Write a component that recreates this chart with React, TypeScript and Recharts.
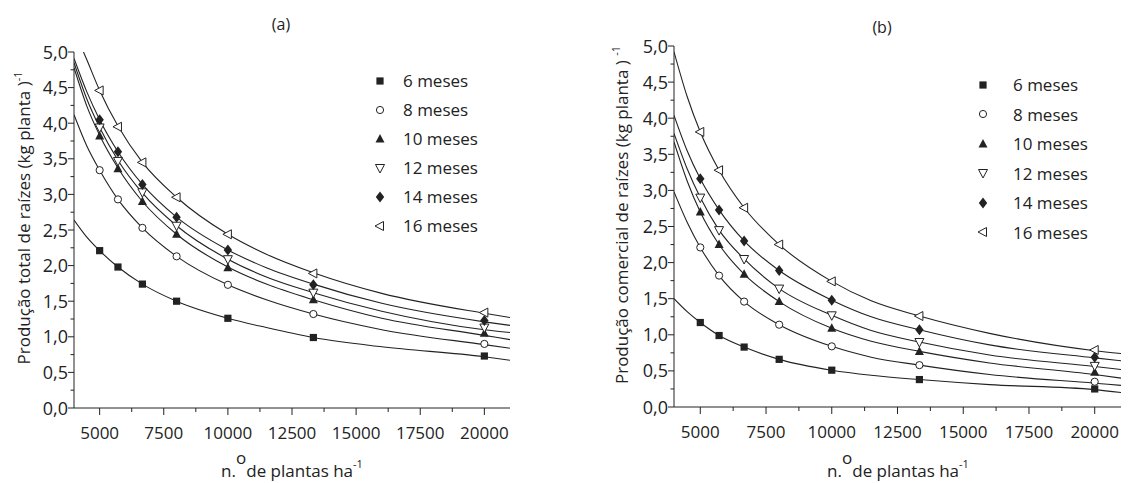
import React from "react";
import { ComposedChart, Line, Scatter, XAxis, YAxis, Legend } from "recharts";

// nº de plantas por hectare (valores observados)
const plantDensity = [5000, 5714, 6667, 8000, 10000, 13333, 20000];
const seriesNames = ["6 meses", "8 meses", "10 meses", "12 meses", "14 meses", "16 meses"];
const markerKinds = ["square", "circle", "triUp", "triDown", "diamond", "triLeft"];

// (a) produção total de raízes - pontos observados
const totalObs6 = [2.21, 1.98, 1.74, 1.5, 1.26, 0.99, 0.73];
const totalObs8 = [3.34, 2.93, 2.53, 2.13, 1.73, 1.32, 0.9];
const totalObs10 = [3.82, 3.36, 2.9, 2.44, 1.97, 1.52, 1.05];
const totalObs12 = [3.94, 3.47, 3.03, 2.56, 2.09, 1.62, 1.13];
const totalObs14 = [4.05, 3.6, 3.14, 2.68, 2.22, 1.73, 1.23];
const totalObs16 = [4.46, 3.95, 3.45, 2.96, 2.44, 1.89, 1.34];

// (b) produção comercial de raízes - pontos observados
const comObs6 = [1.17, 0.99, 0.83, 0.66, 0.51, 0.38, 0.25];
const comObs8 = [2.21, 1.82, 1.46, 1.14, 0.84, 0.58, 0.35];
const comObs10 = [2.7, 2.25, 1.84, 1.46, 1.09, 0.77, 0.48];
const comObs12 = [2.9, 2.45, 2.05, 1.64, 1.27, 0.9, 0.57];
const comObs14 = [3.16, 2.73, 2.3, 1.89, 1.48, 1.07, 0.69];
const comObs16 = [3.81, 3.28, 2.76, 2.25, 1.74, 1.26, 0.79];

// curvas ajustadas
const curveX = [4000, 4500, 5000, 5714, 6667, 8000, 10000, 11500, 13333, 16000, 20000, 21000];
const curveX16a = [4370, 4500, 5000, 5714, 6667, 8000, 10000, 11500, 13333, 16000, 20000, 21000];

const totalFit6 = [2.64, 2.4, 2.21, 1.98, 1.74, 1.5, 1.26, 1.13, 0.99, 0.86, 0.72, 0.67];
const totalFit8 = [4.12, 3.68, 3.34, 2.93, 2.53, 2.13, 1.73, 1.52, 1.32, 1.1, 0.89, 0.84];
const totalFit10 = [4.78, 4.24, 3.83, 3.37, 2.9, 2.44, 1.98, 1.74, 1.52, 1.26, 1.02, 0.96];
const totalFit12 = [4.85, 4.34, 3.94, 3.48, 3.02, 2.56, 2.09, 1.84, 1.62, 1.36, 1.1, 1.06];
const totalFit14 = [4.91, 4.44, 4.05, 3.6, 3.14, 2.68, 2.22, 1.97, 1.74, 1.47, 1.21, 1.16];
const totalFit16 = [5.0, 4.89, 4.46, 3.96, 3.45, 2.96, 2.44, 2.16, 1.9, 1.61, 1.33, 1.27];

const comFit6 = [1.5, 1.32, 1.17, 0.99, 0.83, 0.66, 0.51, 0.44, 0.38, 0.31, 0.24, 0.2];
const comFit8 = [2.98, 2.56, 2.21, 1.82, 1.46, 1.14, 0.84, 0.69, 0.58, 0.45, 0.33, 0.3];
const comFit10 = [3.67, 3.13, 2.7, 2.25, 1.84, 1.46, 1.09, 0.91, 0.77, 0.61, 0.45, 0.4];
const comFit12 = [3.79, 3.3, 2.9, 2.45, 2.05, 1.64, 1.27, 1.06, 0.9, 0.72, 0.56, 0.52];
const comFit14 = [4.04, 3.55, 3.16, 2.73, 2.3, 1.89, 1.48, 1.25, 1.07, 0.86, 0.68, 0.64];
const comFit16 = [4.92, 4.3, 3.81, 3.28, 2.76, 2.25, 1.74, 1.47, 1.26, 1.02, 0.78, 0.74];

const xTicks = [5000, 6250, 7500, 8750, 10000, 11250, 12500, 13750, 15000, 16250, 17500, 18750, 20000];
const yTicks = [0, 0.25, 0.5, 0.75, 1, 1.25, 1.5, 1.75, 2, 2.25, 2.5, 2.75, 3, 3.25, 3.5, 3.75, 4, 4.25, 4.5, 4.75, 5];

const INK = "#222";
const FONT = "'Open Sans', sans-serif";

const toPts = (xs: number[], ys: number[]) => xs.map((x, i) => ({ x, y: ys[i] }));

const Marker = ({ kind, cx, cy }: { kind: string; cx: number; cy: number }) => {
  switch (kind) {
    case "square":
      return <rect x={cx - 3.6} y={cy - 3.6} width={7.2} height={7.2} fill={INK} />;
    case "circle":
      return <circle cx={cx} cy={cy} r={3.6} fill="#fff" stroke={INK} strokeWidth={1} />;
    case "triUp":
      return <path d={`M${cx},${cy - 5}L${cx + 4.5},${cy + 3.5}L${cx - 4.5},${cy + 3.5}Z`} fill={INK} />;
    case "triDown":
      return <path d={`M${cx - 4.5},${cy - 3.5}L${cx + 4.5},${cy - 3.5}L${cx},${cy + 5}Z`} fill="#fff" stroke={INK} strokeWidth={1} />;
    case "diamond":
      return <path d={`M${cx},${cy - 5.5}L${cx + 4.2},${cy}L${cx},${cy + 5.5}L${cx - 4.2},${cy}Z`} fill={INK} />;
    default:
      return <path d={`M${cx - 5},${cy}L${cx + 3.5},${cy - 4.5}L${cx + 3.5},${cy + 4.5}Z`} fill="#fff" stroke={INK} strokeWidth={1} />;
  }
};

const XTick = (props: any) => {
  const { x, y, payload } = props;
  const major = payload.value % 2500 === 0;
  return (
    <g>
      <line x1={x} x2={x} y1={y} y2={y + (major ? 7 : 4)} stroke={INK} strokeWidth={1} />
      {major && (
        <text x={x} y={y + 31} textAnchor="middle" fontSize={17} fontFamily={FONT} fill={INK}>
          {payload.value}
        </text>
      )}
    </g>
  );
};

const YTick = (props: any) => {
  const { x, y, payload } = props;
  const major = Math.round(payload.value * 100) % 50 === 0;
  return (
    <g>
      <line x1={x} x2={x - (major ? 6 : 3.5)} y1={y} y2={y} stroke={INK} strokeWidth={1} />
      {major && (
        <text x={x - 6} y={y + 6.5} textAnchor="end" fontSize={18} fontFamily={FONT} fill={INK}>
          {payload.value.toFixed(1).replace(".", ",")}
        </text>
      )}
    </g>
  );
};

const LegendBox = ({ rowH, gap }: { rowH: number; gap: number }) => (
  <div style={{ fontFamily: FONT, fontSize: 17, color: INK }}>
    {seriesNames.map((name, i) => (
      <div key={name} style={{ display: "flex", alignItems: "center", height: rowH }}>
        <svg width={14} height={14} style={{ display: "block" }}>
          <Marker kind={markerKinds[i]} cx={7} cy={7} />
        </svg>
        <span style={{ marginLeft: gap, lineHeight: "1" }}>{name}</span>
      </div>
    ))}
  </div>
);

type PanelProps = {
  obs: number[][];
  fits: { xs: number[]; ys: number[] }[];
  width: number;
  margin: { top: number; right: number; left: number; bottom: number };
  yWidth: number;
  xHeight: number;
  legendPos: { left: number; top: number };
  rowH: number;
  gap: number;
};

const Panel = ({ obs, fits, width, margin, yWidth, xHeight, legendPos, rowH, gap }: PanelProps) => (
  <ComposedChart width={width} height={483} margin={margin}>
    <XAxis
      type="number"
      dataKey="x"
      domain={[4000, 21000]}
      ticks={xTicks}
      interval={0}
      allowDataOverflow
      height={xHeight}
      axisLine={{ stroke: INK }}
      tickLine={false}
      tickSize={0}
      tickMargin={0}
      tick={XTick}
    />
    <YAxis
      type="number"
      domain={[0, 5]}
      ticks={yTicks}
      interval={0}
      allowDataOverflow
      width={yWidth}
      axisLine={{ stroke: INK }}
      tickLine={false}
      tickSize={0}
      tickMargin={0}
      tick={YTick}
    />
    {fits.map((f, i) => (
      <Line
        key={"fit" + i}
        data={toPts(f.xs, f.ys)}
        dataKey="y"
        type="monotone"
        stroke={INK}
        strokeWidth={1.1}
        dot={false}
        activeDot={false}
        isAnimationActive={false}
      />
    ))}
    {obs.map((ys, i) => (
      <Scatter
        key={"obs" + i}
        data={toPts(plantDensity, ys)}
        dataKey="y"
        isAnimationActive={false}
        shape={(p: any) => <Marker kind={markerKinds[i]} cx={p.cx} cy={p.cy} />}
      />
    ))}
    <Legend
      layout="vertical"
      align="center"
      verticalAlign="middle"
      wrapperStyle={{ left: legendPos.left, top: legendPos.top, width: 150, bottom: "auto", right: "auto" }}
      content={() => <LegendBox rowH={rowH} gap={gap} />}
    />
  </ComposedChart>
);

export default function App() {
  const fitsA = [
    { xs: curveX, ys: totalFit6 },
    { xs: curveX, ys: totalFit8 },
    { xs: curveX, ys: totalFit10 },
    { xs: curveX, ys: totalFit12 },
    { xs: curveX, ys: totalFit14 },
    { xs: curveX16a, ys: totalFit16 },
  ];
  const fitsB = [comFit6, comFit8, comFit10, comFit12, comFit14, comFit16].map((ys) => ({ xs: curveX, ys }));

  return (
    <div style={{ position: "absolute", left: 0, top: 0, width: 1129, height: 483, background: "#fff" }}>
      <div style={{ position: "absolute", left: 0, top: 0 }}>
        <Panel
          obs={[totalObs6, totalObs8, totalObs10, totalObs12, totalObs14, totalObs16]}
          fits={fitsA}
          width={560}
          margin={{ top: 52, right: 50, left: 0, bottom: 0 }}
          yWidth={74}
          xHeight={75}
          legendPos={{ left: 373, top: 66 }}
          rowH={29}
          gap={16}
        />
      </div>
      <div style={{ position: "absolute", left: 560, top: 0 }}>
        <Panel
          obs={[comObs6, comObs8, comObs10, comObs12, comObs14, comObs16]}
          fits={fitsB}
          width={569}
          margin={{ top: 46, right: 8, left: 0, bottom: 0 }}
          yWidth={114}
          xHeight={76}
          legendPos={{ left: 416, top: 70 }}
          rowH={29.5}
          gap={23}
        />
      </div>
      <svg
        width={1129}
        height={483}
        style={{ position: "absolute", left: 0, top: 0, pointerEvents: "none" }}
        fontFamily={FONT}
        fill={INK}
      >
        <text x={281} y={30} textAnchor="middle" fontSize={16}>(a)</text>
        <text x={882} y={33} textAnchor="middle" fontSize={16}>(b)</text>
        <text x={292} y={477} textAnchor="middle" fontSize={17}>
          n.<tspan dy={-13}>o</tspan><tspan dy={13}>de plantas ha</tspan><tspan dy={-9} fontSize={11}>-1</tspan>
        </text>
        <text x={898} y={477} textAnchor="middle" fontSize={17}>
          n.<tspan dy={-13}>o</tspan><tspan dy={13}>de plantas ha</tspan><tspan dy={-9} fontSize={11}>-1</tspan>
        </text>
        <text x={30} y={218} textAnchor="middle" fontSize={17} transform="rotate(-90 30 218)">
          Produção total de raízes (kg planta )<tspan dy={-8} fontSize={11}>-1</tspan>
        </text>
        <text x={628} y={215} textAnchor="middle" fontSize={17} transform="rotate(-90 628 215)">
          Produção comercial de raízes (kg planta ) <tspan dy={-8} fontSize={11}>-1</tspan>
        </text>
      </svg>
    </div>
  );
}
